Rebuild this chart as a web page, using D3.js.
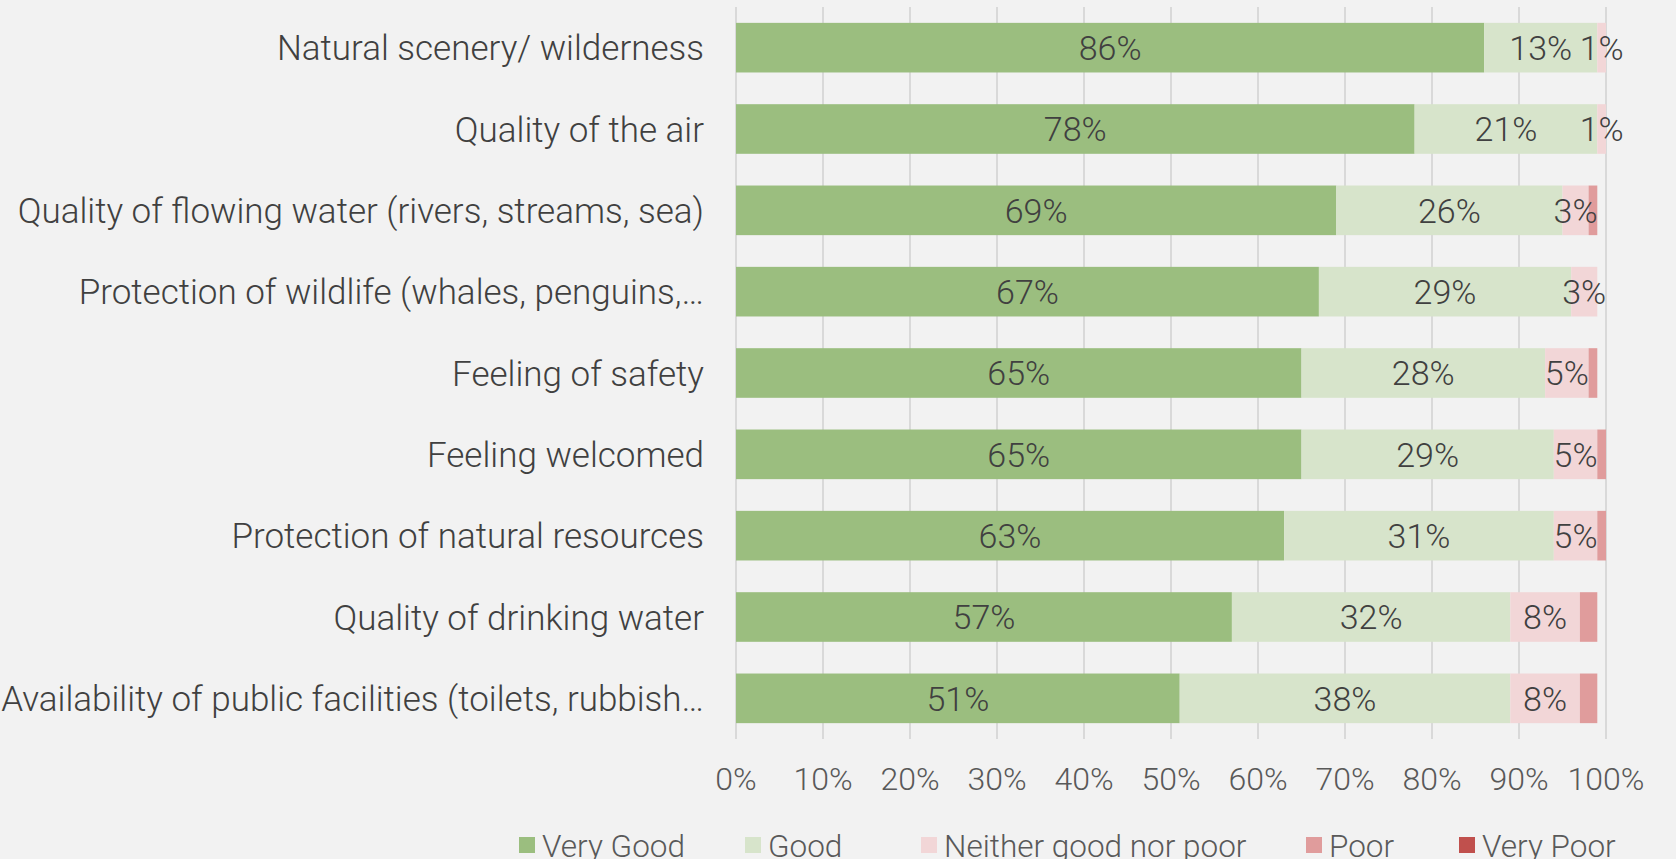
<!DOCTYPE html>
<html>
<head>
<meta charset="utf-8">
<script src="https://cdn.jsdelivr.net/npm/d3@7"></script>
<style>
  body { margin: 0; background: #F2F2F2; }
  svg { display: block; font-family: Roboto, "Liberation Sans", sans-serif; font-weight: 300; }
</style>
</head>
<body>
<svg id="chart" width="1676" height="859"></svg>
<script>
// categories, top to bottom
let categories = [
    "Natural scenery/ wilderness",
    "Quality of the air",
    "Quality of flowing water (rivers, streams, sea)",
    "Protection of wildlife (whales, penguins,\u2026",
    "Feeling of safety",
    "Feeling welcomed",
    "Protection of natural resources",
    "Quality of drinking water",
    "Availability of public facilities (toilets, rubbish\u2026"
];

let seriesNames = ["Very Good", "Good", "Neither good nor poor", "Poor", "Very Poor"];
let seriesColors = ["#9BBE7F", "#D7E4CB", "#F2D6D7", "#E09C9C", "#C0504D"];

// percentages per series, same order as categories
let veryGood = [86, 78, 69, 67, 65, 65, 63, 57, 51];
let good     = [13, 21, 26, 29, 28, 29, 31, 32, 38];
let neither  = [1, 1, 3, 3, 5, 5, 5, 8, 8];
let poor     = [0, 0, 1, 0, 1, 1, 1, 2, 2];
let veryPoor = [0, 0, 0, 0, 0, 0, 0, 0, 0];

// which series get a value label inside the bar
let labelled = [true, true, true, false, false];

let xTicks = [0, 10, 20, 30, 40, 50, 60, 70, 80, 90, 100];

let svg = d3.select("#chart");
let width = +svg.attr("width");
let height = +svg.attr("height");

svg.append("rect").attr("width", width).attr("height", height).attr("fill", "#F2F2F2");

let margin = { left: 736, right: 70, top: 7, bottom: 120 };

// build rows for the stack
let series = [veryGood, good, neither, poor, veryPoor];
let rows = categories.map(function (c, i) {
    let r = { cat: c };
    seriesNames.forEach(function (s, j) { r[s] = series[j][i]; });
    return r;
});
let stacked = d3.stack().keys(seriesNames)(rows);

let x = d3.scaleLinear()
    .domain([0, 100])
    .range([margin.left, width - margin.right]);

let y = d3.scaleBand()
    .domain(categories)
    .range([margin.top, height - margin.bottom])
    .paddingInner(0.39)
    .paddingOuter(0.195);

// gridlines
svg.append("g").selectAll("line")
    .data(xTicks)
    .join("line")
    .attr("x1", d => x(d)).attr("x2", d => x(d))
    .attr("y1", margin.top).attr("y2", height - margin.bottom)
    .attr("stroke", "#D9D9D9")
    .attr("stroke-width", 2);

// bars
let layers = svg.append("g").selectAll("g")
    .data(stacked)
    .join("g")
    .attr("fill", (d, i) => seriesColors[i]);

layers.selectAll("rect")
    .data(d => d)
    .join("rect")
    .attr("x", d => x(d[0]))
    .attr("width", d => x(d[1]) - x(d[0]))
    .attr("y", d => y(d.data.cat))
    .attr("height", y.bandwidth());

// value labels
stacked.forEach(function (layer, i) {
    if (!labelled[i]) return;
    svg.append("g").selectAll("text")
        .data(layer.filter(d => d[1] - d[0] > 0))
        .join("text")
        .attr("x", d => (x(d[0]) + x(d[1])) / 2)
        .attr("y", d => y(d.data.cat) + y.bandwidth() / 2)
        .attr("dy", "0.36em")
        .attr("text-anchor", "middle")
        .attr("fill", "#404040")
        .style("font-size", "34px")
        .text(d => (d[1] - d[0]) + "%");
});

// category labels
svg.append("g").selectAll("text")
    .data(categories)
    .join("text")
    .attr("x", margin.left - 32)
    .attr("y", d => y(d) + y.bandwidth() / 2)
    .attr("dy", "0.36em")
    .attr("text-anchor", "end")
    .attr("fill", "#404040")
    .style("font-size", "35px")
    .text(d => d);

// x tick labels
svg.append("g").selectAll("text")
    .data(xTicks)
    .join("text")
    .attr("x", d => x(d))
    .attr("y", height - margin.bottom + 39)
    .attr("dy", "0.36em")
    .attr("text-anchor", "middle")
    .attr("fill", "#595959")
    .style("font-size", "32px")
    .text(d => d + "%");

// legend (swatch left edges)
let legendX = [519, 745, 921, 1306, 1459];
let legend = svg.append("g").selectAll("g")
    .data(seriesNames)
    .join("g")
    .attr("transform", (d, i) => "translate(" + legendX[i] + ",837)");

legend.append("rect")
    .attr("width", 16).attr("height", 16)
    .attr("fill", (d, i) => seriesColors[i]);

legend.append("text")
    .attr("x", 23).attr("y", 20)
    .attr("fill", "#595959")
    .style("font-size", "31.5px")
    .text(d => d);
</script>
</body>
</html>
